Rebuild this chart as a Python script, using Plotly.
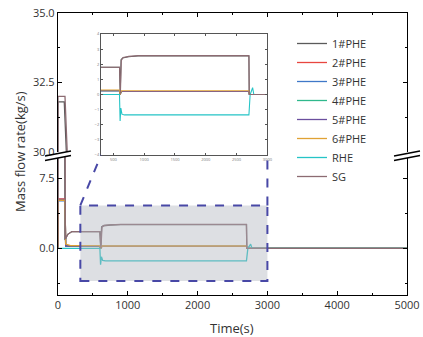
import plotly.graph_objects as go

# ---------------- data ----------------
series_names = ["1#PHE", "2#PHE", "3#PHE", "4#PHE", "5#PHE", "6#PHE", "RHE", "SG"]
series_colors = ["#5a5a5a", "#e8463f", "#3f78c8", "#2fb88c", "#6b4f9e", "#e0a234", "#25c4c6", "#8c6b72"]

phe1_t = [0, 0, 90, 100, 140, 200, 600, 612, 625, 650, 750, 900, 2700, 2705, 5000]
phe1_v = [0, 31.8, 31.8, 0.9, 1.5, 1.8, 1.8, 0.0, 2.3, 2.42, 2.5, 2.55, 2.55, 0.0, 0.0]

phe2_t = [0, 0, 100, 110, 600, 610, 630, 2700, 2710, 5000]
phe2_v = [0, 5.3, 5.3, 0.25, 0.25, 0.0, 0.2, 0.2, 0.0, 0.0]

phe3_t = [0, 0, 100, 110, 600, 610, 630, 2700, 2710, 5000]
phe3_v = [0, 5.1, 5.1, 0.25, 0.25, 0.0, 0.2, 0.2, 0.0, 0.0]

phe4_t = [0, 0, 100, 110, 600, 610, 630, 2700, 2710, 5000]
phe4_v = [0, 5.2, 5.2, 0.25, 0.25, 0.0, 0.2, 0.2, 0.0, 0.0]

phe5_t = [0, 0, 100, 110, 600, 610, 630, 2700, 2710, 5000]
phe5_v = [0, 5.25, 5.25, 0.25, 0.25, 0.0, 0.2, 0.2, 0.0, 0.0]

phe6_t = [0, 0, 100, 110, 180, 600, 610, 630, 2700, 2710, 5000]
phe6_v = [0, 5.15, 5.15, 0.45, 0.3, 0.3, 0.0, 0.25, 0.25, 0.0, 0.0]

rhe_t = [0, 600, 610, 622, 640, 680, 2700, 2720, 2760, 2780, 5000]
rhe_v = [0, 0, -1.75, -0.9, -1.3, -1.35, -1.35, 0.0, 0.45, 0.0, 0.0]

sg_t = [0, 0, 100, 105, 140, 200, 600, 615, 630, 660, 750, 900, 2700, 2705, 5000]
sg_v = [0, 32.0, 32.0, 1.0, 1.5, 1.8, 1.8, 0.05, 2.25, 2.45, 2.52, 2.57, 2.57, 0.0, 0.0]

series_t = [phe1_t, phe2_t, phe3_t, phe4_t, phe5_t, phe6_t, rhe_t, sg_t]
series_v = [phe1_v, phe2_v, phe3_v, phe4_v, phe5_v, phe6_v, rhe_v, sg_v]

x_ticks = [0, 1000, 2000, 3000, 4000, 5000]
zoom_box_x = [320, 3000]
zoom_box_y = [-3.5, 4.6]

# ---------------- layout geometry (pixels) ----------------
W, H = 423, 337
L, R, T, B = 58, 407, 13, 295


def pxx(xp):
    return (xp - L) / (R - L)


def pxy(yp):
    return (B - yp) / (B - T)


low_dom = [0, pxy(155)]
up_dom = [pxy(152), 1]
low_range = [-5, 10]
inset_xdom = [pxx(101), 0.6]
inset_ydom = [pxy(155), pxy(34)]

font_fam = "Open Sans, Liberation Sans, sans-serif"
txt_col = "#333333"

fig = go.Figure()

for i, name in enumerate(series_names):
    c = series_colors[i]
    t = series_t[i]
    v = series_v[i]
    fig.add_trace(go.Scatter(x=t, y=v, mode="lines", name=name, line=dict(color=c, width=1.3),
                             xaxis="x", yaxis="y", showlegend=True, legendgroup=name))
    fig.add_trace(go.Scatter(x=t, y=v, mode="lines", name=name, line=dict(color=c, width=1.3),
                             xaxis="x2", yaxis="y2", showlegend=False, legendgroup=name))
    fig.add_trace(go.Scatter(x=t, y=v, mode="lines", name=name, line=dict(color=c, width=1.1),
                             xaxis="x3", yaxis="y3", showlegend=False, legendgroup=name))

axis_common = dict(showline=True, linecolor="black", linewidth=1.3, ticks="inside",
                   tickcolor="black", ticklen=4, tickwidth=1, showgrid=False, zeroline=False,
                   tickfont=dict(family=font_fam, size=11, color=txt_col))

fig.update_layout(
    width=W, height=H,
    margin=dict(l=L, r=W - R, t=T, b=H - B, autoexpand=False),
    paper_bgcolor="white", plot_bgcolor="white",
    xaxis=dict(axis_common, domain=[0, 1], range=[0, 5000], anchor="y", tickvals=x_ticks,
               tickformat="d", mirror=False,
               minor=dict(ticks="inside", dtick=500, ticklen=2, tickcolor="black")),
    xaxis2=dict(axis_common, domain=[0, 1], range=[0, 5000], anchor="y2", side="top",
                matches="x", showticklabels=False, tickvals=x_ticks,
                minor=dict(ticks="inside", dtick=500, ticklen=2, tickcolor="black")),
    yaxis=dict(axis_common, domain=low_dom, range=low_range, anchor="x", tick0=0, dtick=7.5,
               tickformat=".1f", mirror="ticks",
               minor=dict(ticks="inside", dtick=3.75, ticklen=2, tickcolor="black")),
    yaxis2=dict(axis_common, domain=up_dom, range=[30, 35], anchor="x2", tick0=30, dtick=2.5,
                tickformat=".1f", mirror="ticks",
                minor=dict(ticks="inside", dtick=1.25, ticklen=2, tickcolor="black")),
    xaxis3=dict(domain=inset_xdom, range=[300, 3000], anchor="y3", showline=True, mirror="ticks",
                linecolor="#555555", linewidth=1, ticks="inside", ticklen=2, tickcolor="#555555",
                dtick=500, tick0=0, showgrid=False, zeroline=False,
                tickfont=dict(family=font_fam, size=4, color="#777777")),
    yaxis3=dict(domain=inset_ydom, range=[-4, 4], anchor="x3", showline=True, mirror="ticks",
                linecolor="#555555", linewidth=1, ticks="inside", ticklen=2, tickcolor="#555555",
                dtick=1, showgrid=False, zeroline=False,
                tickfont=dict(family=font_fam, size=4, color="#777777")),
    legend=dict(x=pxx(292), y=pxy(29), xanchor="left", yanchor="top",
                bgcolor="rgba(0,0,0,0)", font=dict(family=font_fam, size=11, color=txt_col),
                tracegroupgap=0, itemwidth=30),
    showlegend=True,
)


def low_paper_y(v):
    return low_dom[0] + (v - low_range[0]) / (low_range[1] - low_range[0]) * (low_dom[1] - low_dom[0])


shapes = []
shapes.append(dict(type="rect", xref="x", yref="y", x0=zoom_box_x[0], x1=zoom_box_x[1],
                   y0=zoom_box_y[0], y1=zoom_box_y[1], layer="above",
                   fillcolor="rgba(175,178,188,0.42)",
                   line=dict(color="#4848a6", width=2, dash="dash")))
shapes.append(dict(type="line", xref="paper", yref="paper",
                   x0=zoom_box_x[0] / 5000, y0=low_paper_y(zoom_box_y[1]),
                   x1=inset_xdom[0], y1=inset_ydom[0],
                   line=dict(color="#4848a6", width=2, dash="dash")))
shapes.append(dict(type="line", xref="paper", yref="paper",
                   x0=zoom_box_x[1] / 5000, y0=low_paper_y(zoom_box_y[1]),
                   x1=inset_xdom[1], y1=inset_ydom[0],
                   line=dict(color="#4848a6", width=2, dash="dash")))

for cx in (L, R):
    xa, xb = cx - 13, cx + 13
    path = "M {} {} L {} {} L {} {} L {} {} Z".format(
        pxx(xa), pxy(156.5), pxx(xb), pxy(151.5), pxx(xb), pxy(155.5), pxx(xa), pxy(160.5))
    shapes.append(dict(type="path", xref="paper", yref="paper", path=path,
                       fillcolor="white", line=dict(width=0), layer="above"))
    shapes.append(dict(type="line", xref="paper", yref="paper", x0=pxx(xa), y0=pxy(156),
                       x1=pxx(xb), y1=pxy(151), line=dict(color="black", width=1.3), layer="above"))
    shapes.append(dict(type="line", xref="paper", yref="paper", x0=pxx(xa), y0=pxy(160.5),
                       x1=pxx(xb), y1=pxy(155.5), line=dict(color="black", width=1.3), layer="above"))

fig.update_layout(shapes=shapes)

fig.add_annotation(text="Time(s)", xref="paper", yref="paper", x=pxx(232), y=pxy(328),
                   xanchor="center", yanchor="middle",
                   showarrow=False, font=dict(family=font_fam, size=13, color=txt_col))
fig.add_annotation(text="Mass flow rate(kg/s)", xref="paper", yref="paper", x=pxx(20), y=pxy(152),
                   xanchor="center", yanchor="middle",
                   textangle=-90, showarrow=False, font=dict(family=font_fam, size=13, color=txt_col))

fig.write_html("out.html", config={"displayModeBar": False},
               post_script="document.body.style.margin='0px';document.body.style.overflow='hidden';")
